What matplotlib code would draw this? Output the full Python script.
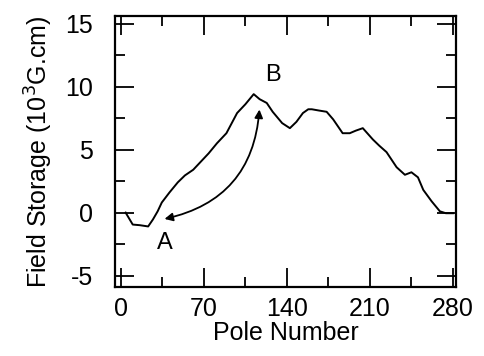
import numpy as np
import matplotlib.pyplot as plt
from matplotlib.patches import FancyArrowPatch
from matplotlib.ticker import MultipleLocator

plt.rcParams['font.family'] = ['Liberation Sans', 'DejaVu Sans']
plt.rcParams['axes.unicode_minus'] = False

# integrated field along the undulator
pole = [4, 10, 16, 23, 27, 31, 34.5, 41, 48, 54, 61, 67, 74, 81, 89, 98, 105, 112,
        117, 123, 128, 136, 142.5, 148, 153.5, 158, 161, 167, 173.5, 179, 187, 193,
        198, 204, 212.5, 218, 224, 232.5, 239.5, 245, 250.5, 255, 262, 269, 274, 280]
field = [0.0, -0.95, -1.0, -1.1, -0.55, 0.1, 0.8, 1.6, 2.4, 2.95, 3.4, 4.0, 4.7,
         5.5, 6.3, 7.9, 8.6, 9.4, 9.0, 8.7, 8.0, 7.1, 6.7, 7.2, 7.9, 8.2, 8.2, 8.1,
         8.0, 7.4, 6.3, 6.3, 6.5, 6.7, 5.8, 5.3, 4.8, 3.6, 3.0, 3.2, 2.8, 1.8, 0.9,
         0.1, -0.05, -0.05]

point_a = (34.5, -0.55)
point_b = (117, 8.4)

fig = plt.figure(figsize=(4.85, 3.56), dpi=100)
ax = fig.add_axes([0.237, 0.194, 0.703, 0.761])

ax.plot(pole, field, color='black', lw=1.4)

arr = FancyArrowPatch(point_a, point_b, arrowstyle='<|-|>', mutation_scale=12,
                      connectionstyle='arc3,rad=0.38', color='black', lw=1.3)
ax.add_patch(arr)

ax.text(37, -2.4, 'A', fontsize=17, ha='center', va='center')
ax.text(128, 10.9, 'B', fontsize=17, ha='center', va='center')

ax.set_xlim(-5, 282.5)
ax.set_ylim(-5.9, 15.6)
ax.xaxis.set_major_locator(MultipleLocator(70))
ax.xaxis.set_minor_locator(MultipleLocator(35))
ax.yaxis.set_major_locator(MultipleLocator(5))
ax.yaxis.set_minor_locator(MultipleLocator(2.5))
ax.tick_params(which='both', direction='in', top=True, right=True,
               width=1.3, labelsize=18)
ax.tick_params(axis='x', pad=7)
ax.tick_params(axis='y', pad=16)
ax.tick_params(which='major', length=14)
ax.tick_params(which='minor', length=7)
for s in ax.spines.values():
    s.set_linewidth(1.6)

ax.set_xlabel('Pole Number', fontsize=18, labelpad=0)
ax.set_ylabel('Field Storage (10$^3$G.cm)', fontsize=18, labelpad=7)

fig.savefig('out.png', dpi=100)
